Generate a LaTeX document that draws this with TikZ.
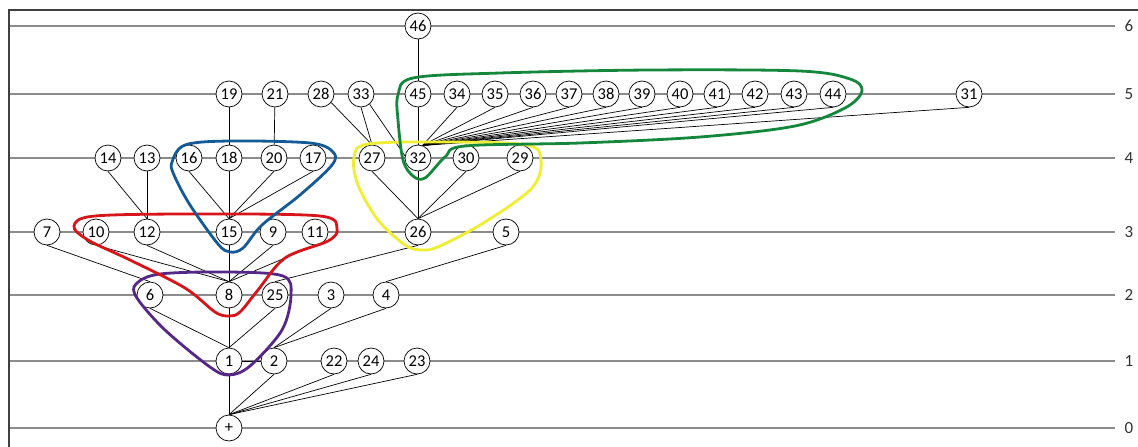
\documentclass[tikz,border=0pt]{standalone}
\usepackage{fontspec}
\setmainfont{Carlito}
\usetikzlibrary{backgrounds}
\definecolor{hullred}{RGB}{215,20,25}
\definecolor{hullblue}{RGB}{20,90,150}
\definecolor{hullpurple}{RGB}{85,40,135}
\definecolor{hullyellow}{RGB}{238,238,50}
\definecolor{hullgreen}{RGB}{20,135,60}
\definecolor{levelgray}{RGB}{140,140,140}
\begin{document}
\begin{tikzpicture}[x=1pt,y=-1pt,
  vtx/.style={circle,draw=black,fill=white,line width=0.7pt,minimum size=26pt,
    inner sep=0pt,font=\fontsize{16.5}{16.5}\selectfont},
  lvlline/.style={draw=levelgray,line width=1.1pt},
  lvllabel/.style={font=\fontsize{17}{17}\selectfont,text=black!80},
  edge/.style={draw=black,line width=0.7pt},
  hull/.style={line width=2.8pt,smooth cycle,tension=0.55}]
\useasboundingbox (0,0) rectangle (1138,447);
% frame
\draw[black!75,line width=1.2pt] (9,447) -- (9,10) -- (1138,10);
% vertices, level by level
\node[vtx] (n0) at (229,428) {+};
\foreach \n/\xx in {1/229,2/274,22/334,24/371,23/417}
  \node[vtx] (n\n) at (\xx,361) {\n};
\foreach \n/\xx in {6/150,8/229,25/275,3/331,4/386}
  \node[vtx] (n\n) at (\xx,295) {\n};
\foreach \n/\xx in {7/47,10/96,12/147,15/229,9/273,11/315,26/418,5/506}
  \node[vtx] (n\n) at (\xx,232) {\n};
\foreach \n/\xx in {14/108,13/147,16/189,18/229,20/274,17/313,27/372,32/418,30/466,29/520}
  \node[vtx] (n\n) at (\xx,158) {\n};
\foreach \n/\xx in {19/229,21/275,28/321,33/361,45/418,34/457,35/495,36/533,37/569,38/606,39/642,40/680,41/717,42/755,43/794,44/833,31/969}
  \node[vtx] (n\n) at (\xx,94) {\n};
\node[vtx] (n46) at (418,26) {46};
\begin{scope}[on background layer]
  % level lines and their numbers
  \foreach \lv/\yy in {0/428,1/361,2/295,3/232,4/158,5/94,6/26}{
    \coordinate (lend\lv) at (1115,\yy);
    \draw[lvlline] (9,\yy) -- (lend\lv);
    \node[lvllabel] (lab\lv) at (1129,\yy) {\lv};
  }
  % connectors
  \foreach \t in {1,2,22,24,23}
    \draw[edge] (n0.north) -- (n\t.south);
  \draw[edge] (n1) -- (n2);
  \foreach \t in {6,8,25}
    \draw[edge] (n1.north) -- (n\t.south);
  \foreach \t in {3,4}
    \draw[edge] (n2.north) -- (n\t.south);
  \foreach \t in {10,12,15,9,11}
    \draw[edge] (n8.north) -- (n\t.south);
  \draw[edge] (n6.north) -- (n7.south);
  \draw[edge] (n25.north) -- (n26.south);
  \draw[edge] (n4.north) -- (n5.south);
  \foreach \t in {13,14}
    \draw[edge] (n12.north) -- (n\t.south);
  \foreach \t in {16,18,20,17}
    \draw[edge] (n15.north) -- (n\t.south);
  \draw[edge] (n18) -- (n19);
  \draw[edge] (n20) -- (n21);
  \foreach \t in {27,32,30,29}
    \draw[edge] (n26.north) -- (n\t.south);
  \draw[edge] (n27.north) -- (n28.-40);
  \draw[edge] (n27.north) -- (n33.south);
  \draw[edge] (n32.170) -- (n33.-50);
  \draw[edge] (n32) -- (n45);
  \draw[edge] (n45) -- (n46);
  \foreach \t in {34,35,36,37,38,39,40,41,42,43,44,31}
    \draw[edge] (n32.70) -- (n\t.south);
\end{scope}
% coloured groupings
\draw[hull,hullpurple] plot coordinates {(136,284) (160,274) (229,272) (283,276) (291,295) (282,330) (250,366) (229,375) (210,367) (165,330) (137,298)};
\draw[hull,hullred] plot coordinates {(74,226) (95,216) (200,214) (320,216) (337,229) (328,241) (285,258) (258,290) (240,312) (229,316) (215,312) (185,288) (130,260) (88,240)};
\draw[hull,hullblue] plot coordinates {(172,162) (185,145) (230,141) (310,143) (333,152) (332,165) (300,195) (262,225) (243,248) (230,252) (218,244) (190,205) (174,175)};
\draw[hull,hullyellow] plot coordinates {(354,158) (368,144) (450,142) (527,145) (541,160) (532,188) (485,222) (440,246) (422,250) (405,245) (378,220) (358,185)};
\draw[hull,hullgreen] plot coordinates {(398,95) (413,78) (500,73) (650,70) (800,71) (850,79) (862,91) (845,108) (795,126) (700,137) (580,143) (465,146) (445,157) (425,178) (413,176) (403,160) (398,120)};
\end{tikzpicture}
\end{document}
